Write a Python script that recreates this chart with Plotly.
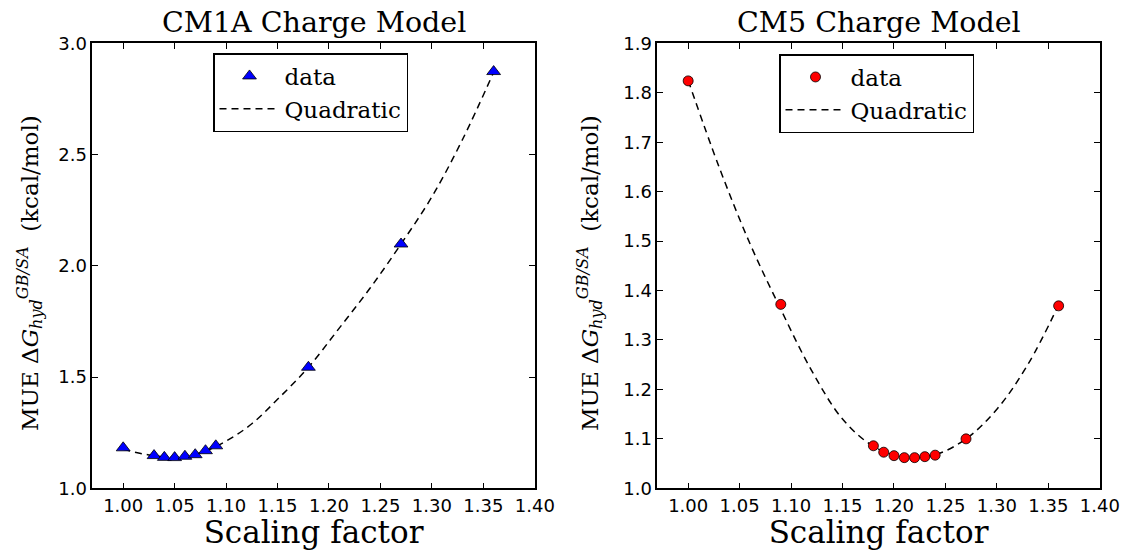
import plotly.graph_objects as go

# ---- data ----
cm1a_x = [1.00, 1.03, 1.04, 1.05, 1.06, 1.07, 1.08, 1.09, 1.18, 1.27, 1.36]
cm1a_y = [1.182, 1.147, 1.139, 1.138, 1.144, 1.151, 1.169, 1.191, 1.544, 2.098, 2.873]
cm1a_fit_x = [1.000, 1.025, 1.050, 1.075, 1.100, 1.125, 1.150, 1.180, 1.210, 1.240, 1.270, 1.300, 1.330, 1.360]
cm1a_fit_y = [1.175, 1.150, 1.140, 1.160, 1.212, 1.290, 1.400, 1.544, 1.720, 1.900, 2.098, 2.310, 2.570, 2.870]

cm5_x = [1.00, 1.09, 1.18, 1.19, 1.20, 1.21, 1.22, 1.23, 1.24, 1.27, 1.36]
cm5_y = [1.824, 1.372, 1.086, 1.073, 1.066, 1.062, 1.062, 1.064, 1.067, 1.100, 1.369]
cm5_fit_x = [1.00, 1.03, 1.06, 1.09, 1.12, 1.15, 1.18, 1.21, 1.24, 1.27, 1.30, 1.33, 1.36]
cm5_fit_y = [1.825, 1.650, 1.495, 1.362, 1.238, 1.140, 1.085, 1.063, 1.068, 1.100, 1.160, 1.250, 1.371]

x_ticks = [1.00, 1.05, 1.10, 1.15, 1.20, 1.25, 1.30, 1.35, 1.40]
cm1a_y_ticks = [1.0, 1.5, 2.0, 2.5, 3.0]
cm5_y_ticks = [1.0, 1.1, 1.2, 1.3, 1.4, 1.5, 1.6, 1.7, 1.8, 1.9]

titles = ["CM1A Charge Model", "CM5 Charge Model"]
x_title = "Scaling factor"
y_title = "MUE Δ<i>G</i><sub><i>hyd</i></sub><sup><i>GB/SA</i></sup>  (kcal/mol)"

SERIF = "DejaVu Serif"
SANS = "DejaVu Sans"
DASH = "7px,5px"

fig = go.Figure()

fig.add_trace(go.Scatter(
    x=cm1a_fit_x, y=cm1a_fit_y, mode="lines", name="Quadratic",
    line=dict(color="black", width=1.5, dash=DASH, shape="spline", smoothing=1.0),
    xaxis="x", yaxis="y", legend="legend", legendrank=2))
fig.add_trace(go.Scatter(
    x=cm1a_x, y=cm1a_y, mode="markers", name="data",
    marker=dict(symbol="triangle-up", size=12, color="#0000ff",
                line=dict(color="black", width=0.8)),
    xaxis="x", yaxis="y", legend="legend", legendrank=1))

fig.add_trace(go.Scatter(
    x=cm5_fit_x, y=cm5_fit_y, mode="lines", name="Quadratic",
    line=dict(color="black", width=1.5, dash=DASH, shape="spline", smoothing=1.0),
    xaxis="x2", yaxis="y2", legend="legend2", legendrank=2))
fig.add_trace(go.Scatter(
    x=cm5_x, y=cm5_y, mode="markers", name="data",
    marker=dict(symbol="circle", size=10, color="#ff0000",
                line=dict(color="black", width=0.8)),
    xaxis="x2", yaxis="y2", legend="legend2", legendrank=1))

W, H = 1124, 550
dom_y = [1 - 488.3 / H, 1 - 43.3 / H]
dom_x1 = [92.3 / W, 534.8 / W]
dom_x2 = [657.3 / W, 1099.8 / W]
y_label_pos = 1 - 273 / H

axis_common = dict(
    showline=True, linecolor="black", linewidth=1.5, mirror="ticks",
    ticks="inside", ticklen=6, tickwidth=1, tickcolor="black",
    showgrid=False, zeroline=False, automargin=False,
    tickfont=dict(family=SANS, size=18, color="black"),
)
xt_font = dict(family=SERIF, size=31, color="black")
yt_font = dict(family=SERIF, size=23, color="black")
title_font = dict(family=SERIF, size=28.5, color="black")

fig.update_layout(
    width=W, height=H,
    margin=dict(l=0, r=0, t=0, b=0, autoexpand=False),
    plot_bgcolor="white", paper_bgcolor="white",
    showlegend=True,
    xaxis=dict(domain=dom_x1, range=[0.97, 1.40], tickvals=x_ticks, tickformat=".2f",
               anchor="y", title=dict(text=x_title, font=xt_font, standoff=6), **axis_common),
    yaxis=dict(domain=dom_y, range=[1.0, 3.0], tickvals=cm1a_y_ticks, tickformat=".1f",
               anchor="x", **axis_common),
    xaxis2=dict(domain=dom_x2, range=[0.97, 1.40], tickvals=x_ticks, tickformat=".2f",
                anchor="y2", title=dict(text=x_title, font=xt_font, standoff=6), **axis_common),
    yaxis2=dict(domain=dom_y, range=[1.0, 1.9], tickvals=cm5_y_ticks, tickformat=".1f",
                anchor="x2", **axis_common),
    legend=dict(x=213 / W, y=1 - 53 / H, xanchor="left", yanchor="top",
                bordercolor="black", borderwidth=1.5, bgcolor="white",
                font=dict(family=SERIF, size=23, color="black"),
                itemwidth=60, traceorder="normal"),
    legend2=dict(x=779 / W, y=1 - 54 / H, xanchor="left", yanchor="top",
                 bordercolor="black", borderwidth=1.5, bgcolor="white",
                 font=dict(family=SERIF, size=23, color="black"),
                 itemwidth=60, traceorder="normal"),
    annotations=[
        dict(text=titles[0], x=(dom_x1[0] + dom_x1[1]) / 2, y=1 - 22 / H, xref="paper", yref="paper",
             showarrow=False, xanchor="center", yanchor="middle", font=title_font),
        dict(text=titles[1], x=(dom_x2[0] + dom_x2[1]) / 2, y=1 - 22 / H, xref="paper", yref="paper",
             showarrow=False, xanchor="center", yanchor="middle", font=title_font),
        dict(text=y_title, x=29 / W, y=y_label_pos, xref="paper", yref="paper", textangle=-90,
             showarrow=False, xanchor="center", yanchor="middle", font=yt_font),
        dict(text=y_title, x=589 / W, y=y_label_pos, xref="paper", yref="paper", textangle=-90,
             showarrow=False, xanchor="center", yanchor="middle", font=yt_font),
    ],
)

fig.write_html(
    "out.html",
    config={"responsive": False, "displayModeBar": False},
    post_script="document.body.style.margin='0';document.body.style.padding='0';"
                "document.body.style.overflow='hidden';",
)
